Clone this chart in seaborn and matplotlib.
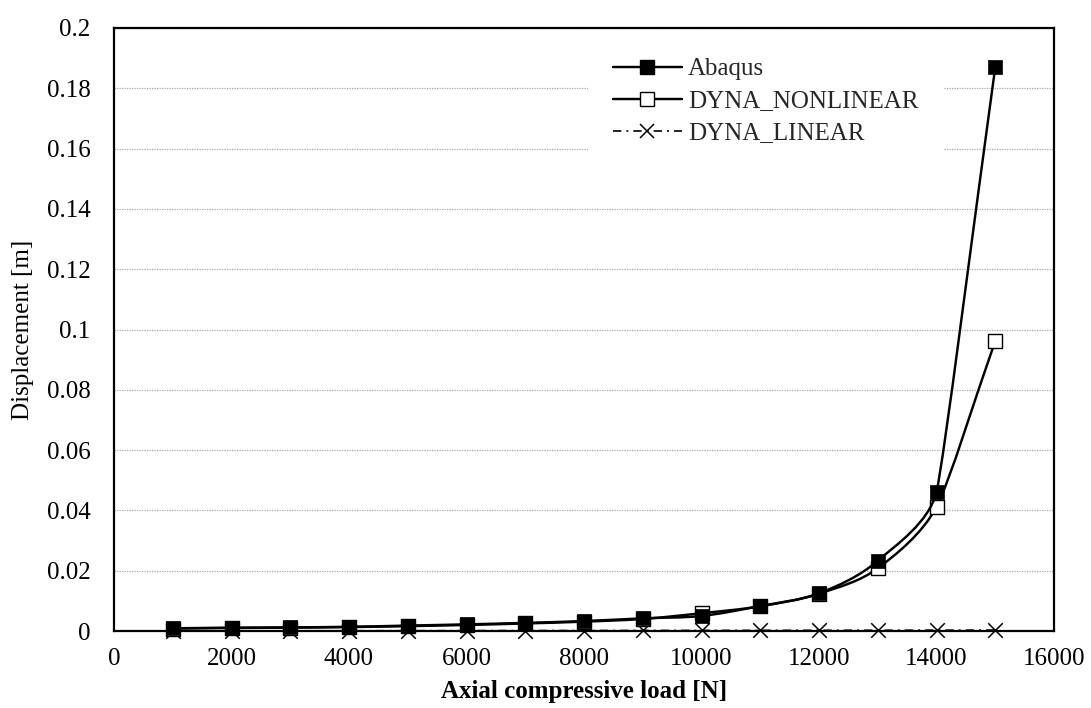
import numpy as np
import pandas as pd
import matplotlib
matplotlib.use("Agg")
import matplotlib.pyplot as plt
import seaborn as sns
from matplotlib.path import Path
from matplotlib.patches import PathPatch
from matplotlib.lines import Line2D

# ---- data ----
load = [1000, 2000, 3000, 4000, 5000, 6000, 7000, 8000,
        9000, 10000, 11000, 12000, 13000, 14000, 15000]
abaqus = [0.0009, 0.0011, 0.0012, 0.0014, 0.0018, 0.0022, 0.0027, 0.0033,
          0.0042, 0.0050, 0.0083, 0.0125, 0.0233, 0.0462, 0.187]
dyna_nonlinear = [0.0008, 0.0010, 0.0011, 0.0013, 0.0016, 0.0020, 0.0025, 0.0031,
                  0.0040, 0.0059, 0.0082, 0.0124, 0.0208, 0.0412, 0.0962]
dyna_linear = [0.00002, 0.00004, 0.00006, 0.00008, 0.00010, 0.00012, 0.00014, 0.00016,
               0.00018, 0.00020, 0.00022, 0.00024, 0.00026, 0.00028, 0.00030]
series_names = ["Abaqus", "DYNA_NONLINEAR", "DYNA_LINEAR"]
xticks = [0, 2000, 4000, 6000, 8000, 10000, 12000, 14000, 16000]
xtick_labels = ["0", "2000", "4000", "6000", "8000", "10000", "12000", "14000", "16000"]
yticks = [0, 0.02, 0.04, 0.06, 0.08, 0.1, 0.12, 0.14, 0.16, 0.18, 0.2]
ytick_labels = ["0", "0.02", "0.04", "0.06", "0.08", "0.1", "0.12", "0.14", "0.16", "0.18", "0.2"]
xlabel = "Axial compressive load [N]"
ylabel = "Displacement [m]"

df = pd.DataFrame({"load": load, series_names[0]: abaqus,
                   series_names[1]: dyna_nonlinear, series_names[2]: dyna_linear})

sns.set_theme(style="white")
plt.rcParams["font.family"] = ["Liberation Serif", "DejaVu Serif"]
plt.rcParams["font.size"] = 18

fig = plt.figure(figsize=(10.91, 7.08), dpi=100)
ax = fig.add_axes([114 / 1091, 1 - 631 / 708, 940 / 1091, 603 / 708])
ax.set_xlim(0, 16000)
ax.set_ylim(0, 0.2)


def smooth_path(ax, xs, ys, k=0.35):
    """Smoothed line through the data points (cubic Bezier in display space)."""
    pts = ax.transData.transform(np.column_stack([xs, ys]))
    n = len(pts)
    seg = [np.hypot(*(pts[i + 1] - pts[i])) for i in range(n - 1)]
    tang = []
    for i in range(n):
        a = pts[max(i - 1, 0)]
        b = pts[min(i + 1, n - 1)]
        v = b - a
        tang.append(v / np.hypot(*v))
    verts = [pts[0]]
    codes = [Path.MOVETO]
    for i in range(n - 1):
        d0 = min(seg[i], seg[i - 1]) if i > 0 else seg[i]
        d1 = min(seg[i], seg[i + 1]) if i + 1 < n - 1 else seg[i]
        c1 = pts[i] + tang[i] * d0 * k
        c2 = pts[i + 1] - tang[i + 1] * d1 * k
        verts += [c1, c2, pts[i + 1]]
        codes += [Path.CURVE4] * 3
    verts = ax.transData.inverted().transform(np.array(verts))
    return Path(verts, codes)


lw_main = 1.75
dashdot = (0, (5, 3, 1.2, 3))
# DYNA_LINEAR
ax.add_patch(PathPatch(smooth_path(ax, load, dyna_linear), fill=False, edgecolor="black",
                       lw=1.2, linestyle=dashdot, zorder=2, clip_on=False))
sns.scatterplot(data=df, x="load", y=series_names[2], marker="x", s=110, color="black",
                linewidth=1.1, ax=ax, zorder=3, clip_on=False, legend=False)
# DYNA_NONLINEAR
ax.add_patch(PathPatch(smooth_path(ax, load, dyna_nonlinear), fill=False, edgecolor="black",
                       lw=lw_main, zorder=4))
sns.scatterplot(data=df, x="load", y=series_names[1], marker="s", s=100, facecolor="white",
                edgecolor="black", linewidth=1.0, ax=ax, zorder=5, clip_on=False, legend=False)
# Abaqus
ax.add_patch(PathPatch(smooth_path(ax, load, abaqus), fill=False, edgecolor="black",
                       lw=lw_main, zorder=6))
sns.scatterplot(data=df, x="load", y=series_names[0], marker="s", s=105, color="black",
                edgecolor="black", linewidth=0.5, ax=ax, zorder=7, clip_on=False, legend=False)

ax.set_xticks(xticks)
ax.set_xticklabels(xtick_labels)
ax.set_yticks(yticks)
ax.set_yticklabels(ytick_labels)
ax.tick_params(axis="both", length=0, labelsize=18, colors="black")
ax.tick_params(axis="y", pad=17)
ax.tick_params(axis="x", pad=12)

ax.yaxis.grid(True, color="#a8a8a8", linestyle=(0, (1, 1)), linewidth=0.9)
ax.xaxis.grid(False)
for s in ax.spines.values():
    s.set_visible(True)
    s.set_color("black")
    s.set_linewidth(1.6)
    s.set_zorder(8)

ax.set_xlabel(xlabel, fontsize=18, fontweight="bold", color="black")
ax.set_ylabel(ylabel, fontsize=18, color="black")
ax.xaxis.set_label_coords(0.5, -0.082)
ax.yaxis.set_label_coords(-0.085, 0.5)

handles = [
    Line2D([], [], color="black", lw=lw_main, marker="s", markersize=10,
           markerfacecolor="black", markeredgecolor="black"),
    Line2D([], [], color="black", lw=lw_main, marker="s", markersize=9.5,
           markerfacecolor="white", markeredgecolor="black", markeredgewidth=1.0),
    Line2D([], [], color="black", lw=1.2, linestyle=dashdot, marker="x",
           markersize=10.5, markeredgewidth=1.1),
]
leg = ax.legend(handles, series_names, loc="upper left", bbox_to_anchor=(0.504, 0.992),
                borderaxespad=0, borderpad=1.0, frameon=True, framealpha=1,
                facecolor="white", edgecolor="none", fancybox=False,
                handlelength=2.76, handletextpad=0.25, labelspacing=0.38,
                fontsize=18)
leg.set_zorder(9)

fig.savefig("out.png", dpi=100)
